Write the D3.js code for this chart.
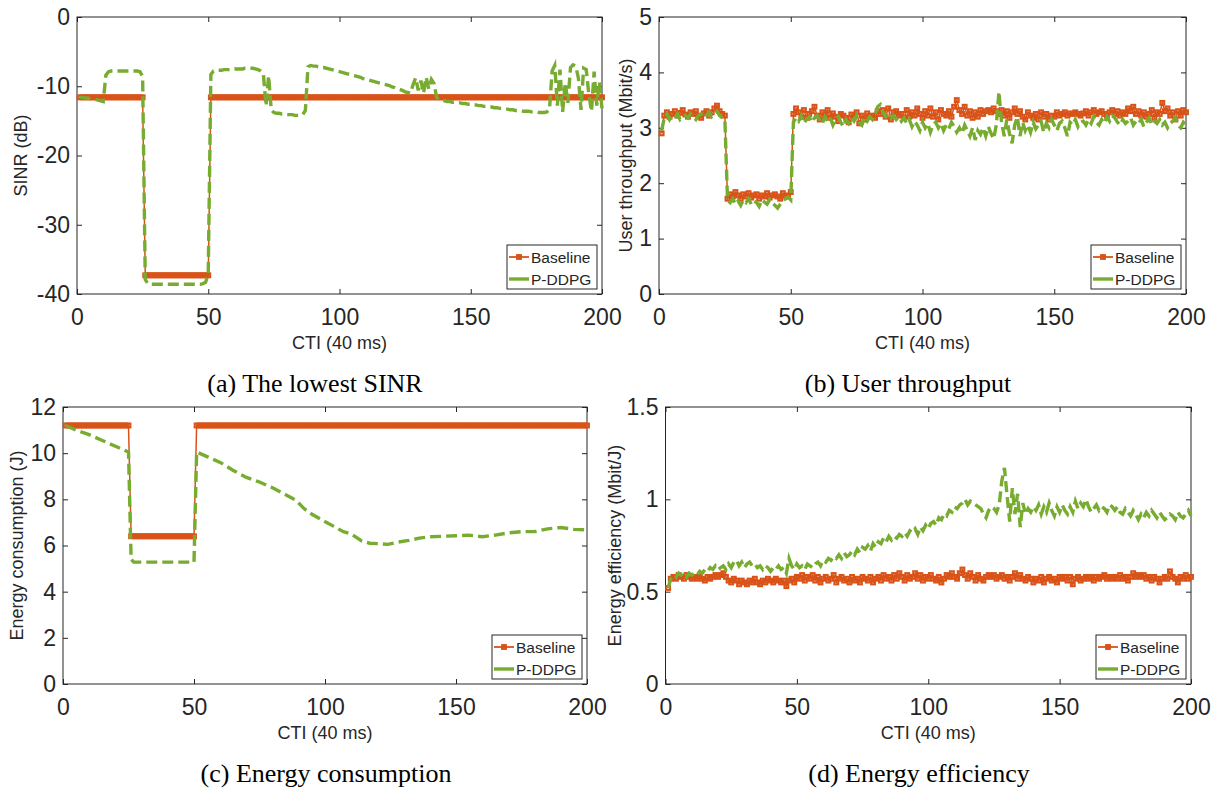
<!DOCTYPE html>
<html><head><meta charset="utf-8">
<script src="https://cdn.jsdelivr.net/npm/d3@7"></script>
<style>body{margin:0;background:#fff}svg{display:block}</style>
</head><body>
<svg id="chart" width="1218" height="791"></svg>
<script>
// ---------- DATA ----------
const cti = d3.range(1, 201);           // CTI index 1..200
const xTicks = [0, 50, 100, 150, 200];
const seriesNames = ["Baseline", "P-DDPG"];

// (a) lowest SINR (dB)
const sinrTicks = [-40, -30, -20, -10, 0];
const sinrBaseline = [
-11.6,-11.6,-11.6,-11.6,-11.6,-11.6,-11.6,-11.6,-11.6,-11.6,-11.6,-11.6,-11.6,-11.6,-11.6,-11.6,-11.6,-11.6,-11.6,-11.6,-11.6,-11.6,-11.6,-11.6,-11.6,
-37.3,-37.3,-37.3,-37.3,-37.3,-37.3,-37.3,-37.3,-37.3,-37.3,-37.3,-37.3,-37.3,-37.3,-37.3,-37.3,-37.3,-37.3,-37.3,-37.3,-37.3,-37.3,-37.3,-37.3,-37.3,
-11.6,-11.6,-11.6,-11.6,-11.6,-11.6,-11.6,-11.6,-11.6,-11.6,-11.6,-11.6,-11.6,-11.6,-11.6,-11.6,-11.6,-11.6,-11.6,-11.6,-11.6,-11.6,-11.6,-11.6,-11.6,
-11.6,-11.6,-11.6,-11.6,-11.6,-11.6,-11.6,-11.6,-11.6,-11.6,-11.6,-11.6,-11.6,-11.6,-11.6,-11.6,-11.6,-11.6,-11.6,-11.6,-11.6,-11.6,-11.6,-11.6,-11.6,
-11.6,-11.6,-11.6,-11.6,-11.6,-11.6,-11.6,-11.6,-11.6,-11.6,-11.6,-11.6,-11.6,-11.6,-11.6,-11.6,-11.6,-11.6,-11.6,-11.6,-11.6,-11.6,-11.6,-11.6,-11.6,
-11.6,-11.6,-11.6,-11.6,-11.6,-11.6,-11.6,-11.6,-11.6,-11.6,-11.6,-11.6,-11.6,-11.6,-11.6,-11.6,-11.6,-11.6,-11.6,-11.6,-11.6,-11.6,-11.6,-11.6,-11.6,
-11.6,-11.6,-11.6,-11.6,-11.6,-11.6,-11.6,-11.6,-11.6,-11.6,-11.6,-11.6,-11.6,-11.6,-11.6,-11.6,-11.6,-11.6,-11.6,-11.6,-11.6,-11.6,-11.6,-11.6,-11.6,
-11.6,-11.6,-11.6,-11.6,-11.6,-11.6,-11.6,-11.6,-11.6,-11.6,-11.6,-11.6,-11.6,-11.6,-11.6,-11.6,-11.6,-11.6,-11.6,-11.6,-11.6,-11.6,-11.6,-11.6,-11.6
];
const sinrPddpg = [
-11.6,-11.6,-11.7,-11.7,-11.8,-11.8,-11.9,-12.0,-12.1,-12.2,
-8.4,-7.9,-7.8,-7.8,-7.8,-7.8,-7.8,-7.8,-7.8,-7.8,
-7.8,-7.8,-7.8,-7.9,-8.6,
-37.9,-38.5,-38.6,-38.6,-38.6,
-38.6,-38.6,-38.6,-38.6,-38.6,-38.6,-38.6,-38.6,-38.6,-38.6,
-38.6,-38.6,-38.6,-38.6,-38.6,-38.6,-38.6,-38.5,-38.3,-37.0,
-8.3,-7.8,-7.7,-7.7,-7.7,-7.6,-7.6,-7.6,-7.6,-7.5,
-7.5,-7.5,-7.5,-7.4,-7.4,-7.4,-7.4,-7.5,-7.6,-7.8,
-8.2,-12.8,-8.5,-13.4,-13.8,-13.9,-13.9,-14.0,-14.0,-14.1,
-14.1,-14.1,-14.2,-14.2,-14.2,-14.1,-13.5,-7.2,-7.0,-7.1,
-7.1,-7.2,-7.3,-7.3,-7.4,-7.5,-7.6,-7.7,-7.8,-7.9,
-8.0,-8.1,-8.2,-8.3,-8.4,-8.5,-8.6,-8.7,-8.9,-9.0,
-9.1,-9.2,-9.3,-9.4,-9.5,-9.6,-9.7,-9.8,-9.9,-10.1,
-10.2,-10.4,-10.5,-10.6,-10.8,-10.9,-11.0,-9.8,-8.8,-10.6,
-9.2,-11.0,-8.7,-10.4,-9.0,-9.6,-11.6,-12.0,-12.1,-12.1,
-12.2,-12.2,-12.3,-12.3,-12.4,-12.4,-12.5,-12.5,-12.6,-12.6,
-12.7,-12.7,-12.8,-12.8,-12.9,-12.9,-13.0,-13.0,-13.1,-13.1,
-13.2,-13.2,-13.3,-13.3,-13.4,-13.4,-13.5,-13.5,-13.5,-13.6,
-13.6,-13.6,-13.7,-13.7,-13.7,-13.8,-13.8,-13.8,-13.7,-13.3,
-7.8,-7.0,-12.8,-7.6,-13.7,-9.5,-12.4,-7.3,-6.9,-7.1,
-8.8,-13.4,-7.4,-7.6,-11.2,-13.6,-7.9,-12.8,-9.4,-13.2
];

// (b) user throughput (Mbit/s)
const thrTicks = [0, 1, 2, 3, 4, 5];
const thrBaseline = [
2.90,3.22,3.28,3.20,3.25,3.30,3.22,3.27,3.32,3.24,3.20,3.28,3.25,3.30,3.22,3.18,3.26,3.30,3.22,3.28,3.35,3.40,3.30,3.25,3.22,
1.72,1.80,1.76,1.84,1.78,1.72,1.80,1.76,1.82,1.74,1.78,1.80,1.72,1.78,1.76,1.82,1.74,1.78,1.80,1.76,1.72,1.82,1.78,1.76,1.84,
3.25,3.35,3.28,3.20,3.32,3.18,3.25,3.30,3.38,3.22,
3.15,3.28,3.22,3.32,3.18,3.26,3.20,3.12,3.25,3.22,
3.18,3.10,3.24,3.20,3.28,3.08,3.22,3.15,3.26,3.20,
3.22,3.18,3.30,3.25,3.32,3.20,3.35,3.15,3.28,3.30,
3.22,3.25,3.18,3.32,3.20,3.28,3.22,3.35,3.25,3.18,
3.30,3.22,3.35,3.20,3.28,3.15,3.32,3.25,3.22,3.30,
3.20,3.38,3.50,3.32,3.25,3.38,3.22,3.30,3.18,3.28,
3.20,3.32,3.25,3.30,3.32,3.28,3.35,3.30,3.25,3.32,
3.22,3.30,3.18,3.28,3.35,3.25,3.30,3.20,3.15,3.28,
3.22,3.18,3.25,3.15,3.28,3.20,3.25,3.15,3.22,3.20,
3.28,3.22,3.25,3.28,3.22,3.26,3.25,3.28,3.25,3.22,
3.26,3.30,3.22,3.28,3.32,3.25,3.28,3.30,3.25,3.22,
3.28,3.32,3.25,3.30,3.22,3.28,3.25,3.35,3.30,3.38,
3.25,3.30,3.22,3.28,3.20,3.25,3.32,3.18,3.28,3.25,
3.45,3.30,3.35,3.22,3.28,3.15,3.30,3.22,3.32,3.28
];
const thrPddpg = [
2.95,3.18,3.25,3.15,3.22,3.18,3.25,3.15,3.20,3.22,3.18,3.25,3.20,3.15,3.22,3.25,3.18,3.22,3.28,3.20,3.25,3.30,3.22,3.18,3.15,
1.70,1.65,1.72,1.62,1.68,1.60,1.70,1.65,1.72,1.62,1.68,1.65,1.58,1.70,1.66,1.62,1.70,1.64,1.60,1.55,1.62,1.68,1.72,1.75,1.70,
3.10,3.18,3.12,3.22,3.08,3.15,3.20,3.10,3.18,3.22,
3.15,3.08,3.20,3.12,3.18,3.05,3.15,3.20,3.10,3.02,
3.15,3.08,3.18,3.12,3.22,3.10,3.05,3.18,3.12,3.20,
3.15,3.25,3.38,3.42,3.28,3.20,3.25,3.18,3.22,3.15,
3.20,3.12,3.18,3.08,3.15,3.02,3.12,3.05,2.95,3.10,
3.00,3.08,2.92,3.05,3.10,3.00,3.08,2.95,3.05,2.98,
3.10,3.02,2.92,3.00,2.90,3.05,2.95,2.85,3.00,2.78,
2.95,2.88,3.00,2.85,3.02,2.90,2.80,3.05,3.65,3.10,
2.85,3.15,2.90,2.72,3.05,3.20,2.85,3.10,2.95,3.05,
2.92,3.10,2.98,3.05,3.12,2.92,3.08,3.00,3.15,3.05,
2.95,3.08,3.12,3.00,2.85,3.10,3.05,3.15,3.02,3.10,
3.12,3.05,3.15,3.08,3.20,3.10,3.05,3.15,3.08,3.20,
3.12,3.22,3.18,3.10,3.05,3.15,3.08,3.12,3.18,3.05,
3.12,3.08,3.15,3.02,3.10,3.18,3.05,3.12,3.08,3.15,
3.05,3.10,3.00,3.08,3.12,3.18,3.05,3.00,3.10,3.05
];

// (c) energy consumption (J)
const energyTicks = [0, 2, 4, 6, 8, 10, 12];
const energyBaseline = [
11.2,11.2,11.2,11.2,11.2,11.2,11.2,11.2,11.2,11.2,11.2,11.2,11.2,11.2,11.2,11.2,11.2,11.2,11.2,11.2,11.2,11.2,11.2,11.2,11.2,
6.4,6.4,6.4,6.4,6.4,6.4,6.4,6.4,6.4,6.4,6.4,6.4,6.4,6.4,6.4,6.4,6.4,6.4,6.4,6.4,6.4,6.4,6.4,6.4,6.4,
11.2,11.2,11.2,11.2,11.2,11.2,11.2,11.2,11.2,11.2,11.2,11.2,11.2,11.2,11.2,11.2,11.2,11.2,11.2,11.2,11.2,11.2,11.2,11.2,11.2,
11.2,11.2,11.2,11.2,11.2,11.2,11.2,11.2,11.2,11.2,11.2,11.2,11.2,11.2,11.2,11.2,11.2,11.2,11.2,11.2,11.2,11.2,11.2,11.2,11.2,
11.2,11.2,11.2,11.2,11.2,11.2,11.2,11.2,11.2,11.2,11.2,11.2,11.2,11.2,11.2,11.2,11.2,11.2,11.2,11.2,11.2,11.2,11.2,11.2,11.2,
11.2,11.2,11.2,11.2,11.2,11.2,11.2,11.2,11.2,11.2,11.2,11.2,11.2,11.2,11.2,11.2,11.2,11.2,11.2,11.2,11.2,11.2,11.2,11.2,11.2,
11.2,11.2,11.2,11.2,11.2,11.2,11.2,11.2,11.2,11.2,11.2,11.2,11.2,11.2,11.2,11.2,11.2,11.2,11.2,11.2,11.2,11.2,11.2,11.2,11.2,
11.2,11.2,11.2,11.2,11.2,11.2,11.2,11.2,11.2,11.2,11.2,11.2,11.2,11.2,11.2,11.2,11.2,11.2,11.2,11.2,11.2,11.2,11.2,11.2,11.2
];
const energyPddpgX = [1,5,10,15,20,25,26,27,50,51,55,60,65,70,75,80,85,89,92,95,99,103,107,110,114,117,120,124,128,132,136,140,145,150,155,160,165,170,175,180,185,190,195,200];
const energyPddpgY = [11.2,11.0,10.8,10.55,10.3,10.05,5.4,5.28,5.28,10.05,9.85,9.6,9.25,8.95,8.75,8.5,8.2,7.95,7.6,7.35,7.1,6.85,6.6,6.5,6.2,6.1,6.08,6.05,6.15,6.22,6.32,6.38,6.4,6.42,6.45,6.38,6.45,6.55,6.6,6.6,6.72,6.78,6.7,6.68];

// (d) energy efficiency (Mbit/J)
const effTicks = [0, 0.5, 1, 1.5];
const effBaseline = [
0.52,0.57,0.58,0.57,0.59,0.58,0.57,0.59,0.58,0.57,
0.58,0.57,0.58,0.57,0.56,0.58,0.57,0.58,0.59,0.58,
0.59,0.60,0.58,0.56,0.55,0.57,0.56,0.54,0.56,0.55,
0.54,0.56,0.55,0.57,0.55,0.54,0.56,0.55,0.57,0.56,
0.55,0.57,0.56,0.55,0.56,0.53,0.56,0.57,0.55,0.58,
0.57,0.59,0.56,0.58,0.57,0.59,0.56,0.58,0.55,0.57,
0.58,0.56,0.57,0.59,0.55,0.57,0.58,0.56,0.57,0.55,
0.58,0.56,0.57,0.55,0.58,0.57,0.56,0.58,0.55,0.57,
0.58,0.56,0.59,0.57,0.58,0.56,0.59,0.57,0.60,0.58,
0.56,0.59,0.57,0.58,0.60,0.57,0.59,0.56,0.58,0.57,
0.59,0.57,0.56,0.58,0.55,0.57,0.59,0.58,0.60,0.58,
0.57,0.60,0.62,0.59,0.57,0.60,0.58,0.56,0.59,0.57,
0.56,0.58,0.59,0.58,0.59,0.57,0.58,0.59,0.57,0.58,
0.56,0.58,0.60,0.57,0.59,0.57,0.56,0.58,0.57,0.55,
0.57,0.56,0.58,0.55,0.57,0.58,0.56,0.57,0.55,0.58,
0.57,0.58,0.56,0.58,0.54,0.57,0.58,0.56,0.57,0.58,
0.57,0.58,0.56,0.58,0.57,0.58,0.59,0.57,0.58,0.57,
0.58,0.57,0.59,0.57,0.58,0.56,0.58,0.60,0.58,0.59,
0.58,0.59,0.57,0.58,0.56,0.58,0.57,0.55,0.57,0.58,
0.57,0.61,0.58,0.57,0.55,0.58,0.57,0.59,0.57,0.58
];
const effPddpg = [
0.52,0.57,0.59,0.58,0.60,0.59,0.60,0.58,0.60,0.59,
0.60,0.59,0.61,0.60,0.62,0.61,0.63,0.62,0.64,0.62,
0.63,0.64,0.62,0.65,0.63,0.66,0.67,0.64,0.66,0.63,
0.65,0.66,0.64,0.65,0.63,0.64,0.62,0.64,0.63,0.61,
0.63,0.62,0.64,0.62,0.63,0.60,0.68,0.64,0.62,0.65,
0.63,0.64,0.62,0.65,0.64,0.63,0.65,0.66,0.64,0.67,
0.66,0.68,0.67,0.69,0.68,0.70,0.68,0.71,0.69,0.70,
0.72,0.70,0.73,0.71,0.74,0.73,0.75,0.72,0.76,0.74,
0.77,0.76,0.79,0.77,0.80,0.78,0.80,0.79,0.81,0.80,
0.82,0.80,0.83,0.82,0.84,0.81,0.85,0.83,0.86,0.84,
0.87,0.88,0.86,0.90,0.89,0.92,0.91,0.94,0.93,0.96,
0.95,0.97,0.98,1.00,0.97,0.99,0.98,0.97,0.96,0.95,
0.92,0.90,0.94,0.96,0.95,0.93,0.97,1.10,1.17,1.02,
0.88,1.06,0.92,1.03,0.85,0.98,0.92,0.95,0.93,0.96,
0.94,0.97,0.92,0.96,0.93,0.98,0.94,0.91,0.96,0.93,
0.97,0.94,0.92,0.96,0.93,0.99,0.95,0.98,0.96,1.00,
0.96,0.93,0.95,0.97,0.94,0.96,0.95,0.93,0.97,0.96,
0.94,0.96,0.93,0.92,0.95,0.93,0.91,0.94,0.92,0.89,
0.92,0.90,0.93,0.91,0.94,0.92,0.90,0.93,0.91,0.89,
0.90,0.92,0.91,0.89,0.93,0.91,0.90,0.92,0.94,0.91
];

// ---------- STYLE / LAYOUT ----------
const COL_BASE = "#D95319", COL_PD = "#77AC30", AX = "#262626";
const SANS = "'Liberation Sans', Arial, Helvetica, sans-serif";
const SERIF = "'Liberation Serif', 'Times New Roman', serif";

const panels = [
  { box:[77,17,602,294], ydom:[-40,0], yticks:sinrTicks, fmt:d=>String(d), ylabel:"SINR (dB)", ylabOff:50,
    caption:"(a) The lowest SINR", capX:315, capY:392,
    base:cti.map((c,i)=>[c,sinrBaseline[i]]), pd:cti.map((c,i)=>[c,sinrPddpg[i]]) },
  { box:[659,17,1186,294], ydom:[0,5], yticks:thrTicks, fmt:d=>String(d), ylabel:"User throughput (Mbit/s)", ylabOff:27,
    caption:"(b) User throughput", capX:908, capY:392,
    base:cti.map((c,i)=>[c,thrBaseline[i]]), pd:cti.map((c,i)=>[c,thrPddpg[i]]) },
  { box:[63,407,587,684], ydom:[0,12], yticks:energyTicks, fmt:d=>String(d), ylabel:"Energy consumption (J)", ylabOff:40,
    caption:"(c) Energy consumption", capX:326, capY:782,
    base:cti.map((c,i)=>[c,energyBaseline[i]]), pd:energyPddpgX.map((c,i)=>[c,energyPddpgY[i]]) },
  { box:[665.5,407,1191,684], ydom:[0,1.5], yticks:effTicks, fmt:d=>String(d), ylabel:"Energy efficiency (Mbit/J)", ylabOff:45,
    caption:"(d) Energy efficiency", capX:919, capY:782,
    base:cti.map((c,i)=>[c,effBaseline[i]]), pd:cti.map((c,i)=>[c,effPddpg[i]]) }
];

const svg = d3.select("#chart");

panels.forEach(p => {
  const [L,T,R,B] = p.box;
  const x = d3.scaleLinear().domain([0,200]).range([L,R]);
  const y = d3.scaleLinear().domain(p.ydom).range([B,T]);
  const g = svg.append("g");

  const styleAxis = sel => {
    sel.select(".domain").remove();
    sel.selectAll(".tick line").attr("stroke", AX).attr("stroke-width", 1);
    sel.selectAll(".tick text").attr("fill", AX).style("font-family", SANS).style("font-size", "23px");
  };
  g.append("g").attr("transform",`translate(0,${B})`)
    .call(d3.axisBottom(x).tickValues(xTicks).tickSize(-5).tickPadding(14.5).tickFormat(d=>String(d)))
    .call(styleAxis);
  g.append("g").attr("transform",`translate(0,${T})`)
    .call(d3.axisTop(x).tickValues(xTicks).tickSize(-5).tickFormat(""))
    .call(styleAxis);
  g.append("g").attr("transform",`translate(${L},0)`)
    .call(d3.axisLeft(y).tickValues(p.yticks).tickSize(-5).tickPadding(7).tickFormat(p.fmt))
    .call(styleAxis);
  g.append("g").attr("transform",`translate(${R},0)`)
    .call(d3.axisRight(y).tickValues(p.yticks).tickSize(-5).tickFormat(""))
    .call(styleAxis);
  g.selectAll(".tick text").attr("font-size", null);
  g.append("rect").attr("x",L).attr("y",T).attr("width",R-L).attr("height",B-T)
    .attr("fill","none").attr("stroke",AX).attr("stroke-width",1);

  g.append("text").attr("x",(L+R)/2).attr("y",B+55).attr("text-anchor","middle")
    .attr("fill",AX).style("font-family",SANS).style("font-size","18px").text("CTI (40 ms)");
  g.append("text").attr("transform",`translate(${L-p.ylabOff},${(T+B)/2}) rotate(-90)`)
    .attr("text-anchor","middle").attr("fill",AX).style("font-family",SANS).style("font-size","18px").text(p.ylabel);

  svg.append("text").attr("x",p.capX).attr("y",p.capY).attr("text-anchor","middle")
    .attr("fill","#000").style("font-family",SERIF).style("font-size","26px").text(p.caption);

  // baseline: thin line + hollow square markers
  const line = d3.line().x(d=>x(d[0])).y(d=>y(d[1]));
  g.append("path").datum(p.base).attr("d",line).attr("fill","none")
    .attr("stroke",COL_BASE).attr("stroke-width",1.5);
  g.append("g").selectAll("rect").data(p.base).join("rect")
    .attr("x",d=>x(d[0])-1.9).attr("y",d=>y(d[1])-1.9).attr("width",3.8).attr("height",3.8)
    .attr("fill","none").attr("stroke",COL_BASE).attr("stroke-width",2.1);

  // P-DDPG dashed
  g.append("path").datum(p.pd).attr("d",line).attr("fill","none")
    .attr("stroke",COL_PD).attr("stroke-width",3.4).attr("stroke-dasharray","11,5");

  // legend
  const lw = 90, lh = 44, lx = R-5-lw, ly = B-5-lh;
  const lg = g.append("g");
  lg.append("rect").attr("x",lx).attr("y",ly).attr("width",lw).attr("height",lh)
    .attr("fill","#fff").attr("stroke",AX).attr("stroke-width",1);
  const rows = [ly+12, ly+34];
  lg.append("line").attr("x1",lx+2).attr("x2",lx+22).attr("y1",rows[0]).attr("y2",rows[0])
    .attr("stroke",COL_BASE).attr("stroke-width",1.8);
  lg.append("rect").attr("x",lx+12-2.4).attr("y",rows[0]-2.4).attr("width",4.8).attr("height",4.8)
    .attr("fill",COL_BASE).attr("stroke",COL_BASE).attr("stroke-width",1);
  lg.append("line").attr("x1",lx+2).attr("x2",lx+22).attr("y1",rows[1]).attr("y2",rows[1])
    .attr("stroke",COL_PD).attr("stroke-width",3.4);
  seriesNames.forEach((n,i) => {
    lg.append("text").attr("x",lx+24).attr("y",rows[i]+5.5).attr("fill",AX)
      .style("font-family",SANS).style("font-size","15.5px").text(n);
  });
});
</script>
</body></html>
